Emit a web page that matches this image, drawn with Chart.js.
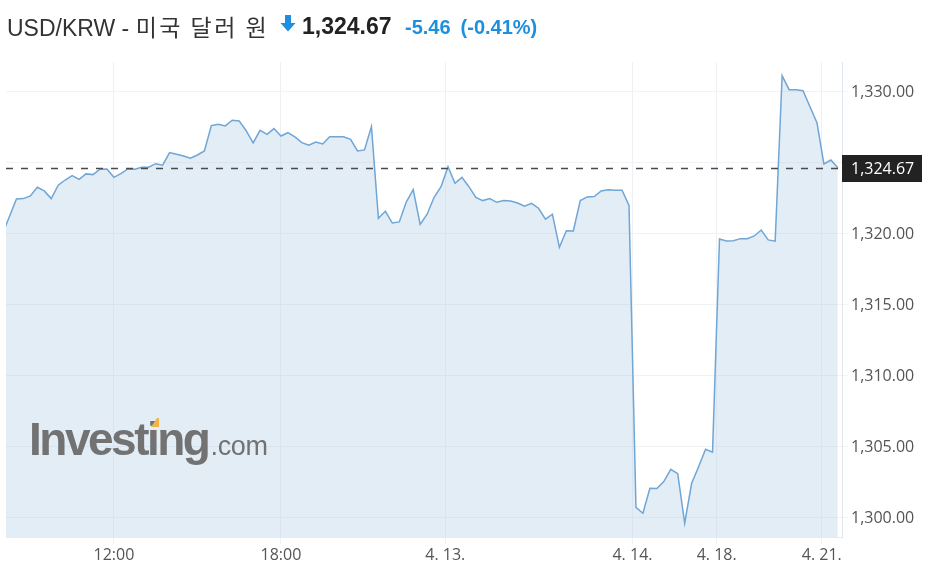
<!DOCTYPE html>
<html>
<head>
<meta charset="utf-8">
<script src="https://cdn.jsdelivr.net/npm/chart.js@4"></script>
<style>
    html, body { margin: 0; padding: 0; background: #fff; }
    #wrap { position: relative; width: 930px; height: 581px; }
    #chart { position: absolute; left: 0; top: 0; }
    .hd { position: absolute; white-space: nowrap; line-height: 1; }
</style>
</head>
<body>
<div id="wrap">
    <canvas id="chart" width="930" height="581"></canvas>
    <div class="hd" style="left:7px; top:14.5px; font-size:23px; color:#333; font-family:'Liberation Sans', Arial, 'Noto Sans CJK KR';">
        <span id="ttl"></span><span id="ttlKo" style="letter-spacing:2.5px; font-family:'Noto Sans CJK KR';"></span>
    </div>
    <svg class="hd" style="left:280px; top:15px;" width="16" height="17" viewBox="0 0 16 17">
        <path d="M5 0 H11 V8 H15.5 L8 16.5 L0.5 8 H5 Z" fill="#1c8fe0"/>
    </svg>
    <div class="hd" id="px" style="left:302px; top:14.5px; font-size:23px; font-weight:bold; color:#222; font-family:'Liberation Sans', Arial;"></div>
    <div class="hd" id="chg" style="left:405px; top:17px; font-size:20px; font-weight:bold; color:#1c8fe0; font-family:'Liberation Sans', Arial;"></div>
</div>
<script>
    var pairTitle = "USD/KRW - ";
    var pairTitleKo = "미국 달러 원";
    var lastPrice = 1324.67;
    var priceChange = -5.46;
    var changePct = -0.41;

    // 15 minute closes
    var usdKrw = [
        1320.04, 1321.23, 1322.46, 1322.49, 1322.68, 1323.29, 1323.03, 1322.49, 1323.43, 1323.80,
        1324.11, 1323.85, 1324.23, 1324.18, 1324.56, 1324.58, 1323.99, 1324.25, 1324.58, 1324.56,
        1324.70, 1324.70, 1324.95, 1324.84, 1325.73, 1325.61, 1325.49, 1325.33, 1325.56, 1325.85,
        1327.63, 1327.73, 1327.61, 1328.01, 1327.96, 1327.27, 1326.41, 1327.30, 1327.02, 1327.42,
        1326.90, 1327.13, 1326.83, 1326.43, 1326.25, 1326.48, 1326.34, 1326.85, 1326.85, 1326.85,
        1326.67, 1325.85, 1325.92, 1327.56, 1321.11, 1321.60, 1320.77, 1320.85, 1322.25, 1323.12,
        1320.67, 1321.39, 1322.58, 1323.33, 1324.74, 1323.57, 1323.99, 1323.33, 1322.58, 1322.35,
        1322.49, 1322.23, 1322.35, 1322.32, 1322.18, 1321.95, 1322.16, 1321.81, 1321.04, 1321.39,
        1319.06, 1320.23, 1320.21, 1322.35, 1322.61, 1322.63, 1323.03, 1323.12, 1323.08, 1323.08,
        1322.01, 1300.75, 1300.33, 1302.09, 1302.07, 1302.56, 1303.43, 1303.12, 1299.63, 1302.44,
        1303.61, 1304.84, 1304.63, 1319.65, 1319.51, 1319.53, 1319.67, 1319.67, 1319.86, 1320.28,
        1319.58, 1319.49, 1331.15, 1330.16, 1330.16, 1330.09, 1328.96, 1327.84, 1324.93, 1325.21,
        1324.67
    ];

    var xTickPos = [16, 40, 63.6, 90.5, 102.6, 117.7];
    var xTickLabels = ["12:00", "18:00", "4. 13.", "4. 14.", "4. 18.", "4. 21."];
    var yTicks = [1300, 1305, 1310, 1315, 1320, 1325, 1330];

    function fmt(v) {
        return v.toLocaleString("en-US", { minimumFractionDigits: 2, maximumFractionDigits: 2 });
    }

    document.getElementById("ttl").textContent = pairTitle;
    document.getElementById("ttlKo").textContent = pairTitleKo;
    document.getElementById("px").textContent = fmt(lastPrice);
    document.getElementById("chg").innerHTML = fmt(priceChange) + '<span style="margin-left:10px">(' + fmt(changePct) + '%)</span>';

    var points = [];
    for (var i = 0; i < usdKrw.length; i++) {
        points.push({ x: i, y: usdKrw[i] });
    }

    var tickFont = { family: "'Open Sans'", size: 16 };

    // watermark, then dashed last price line + label box on top
    var overlay = {
        id: "overlay",
        afterDatasetsDraw: function (chart) {
            var ctx = chart.ctx;
            var area = chart.chartArea;

            ctx.save();
            ctx.fillStyle = "#727272";
            ctx.textBaseline = "alphabetic";
            ctx.font = "bold 46px 'Liberation Sans', Arial";
            ctx.letterSpacing = "-2.5px";
            ctx.fillText("Investing", 29, 455);
            var w = ctx.measureText("Investing").width;
            ctx.font = "27px 'Liberation Sans', Arial";
            ctx.letterSpacing = "-0.3px";
            ctx.fillText(".com", 29 + w + 2, 455);
            ctx.fillStyle = "#f2b447";
            ctx.beginPath();
            ctx.moveTo(151, 427);
            ctx.lineTo(157, 418);
            ctx.lineTo(159, 418);
            ctx.lineTo(159, 427);
            ctx.closePath();
            ctx.fill();
            ctx.restore();

            var y = Math.round(chart.scales.y.getPixelForValue(lastPrice)) + 0.5;
            ctx.save();
            ctx.strokeStyle = "#4a4a4a";
            ctx.lineWidth = 1.6;
            ctx.setLineDash([7, 8]);
            ctx.beginPath();
            ctx.moveTo(area.left, y);
            ctx.lineTo(area.right, y);
            ctx.stroke();
            ctx.setLineDash([]);
            ctx.fillStyle = "#222";
            ctx.fillRect(area.right, y - 13.5, 80, 27);
            ctx.fillStyle = "#fff";
            ctx.font = "16px 'Open Sans'";
            ctx.textBaseline = "middle";
            ctx.fillText(fmt(lastPrice), area.right + 9, y + 1);
            ctx.restore();
        }
    };

    new Chart(document.getElementById("chart"), {
        type: "line",
        data: {
            datasets: [{
                data: points,
                borderColor: "#6fa6d6",
                borderWidth: 1.5,
                backgroundColor: "rgba(175, 203, 228, 0.35)",
                fill: "start",
                pointRadius: 0,
                tension: 0
            }]
        },
        options: {
            responsive: false,
            animation: false,
            layout: { padding: { left: 6, top: 62, right: 0, bottom: 0 } },
            plugins: { legend: { display: false }, tooltip: { enabled: false } },
            scales: {
                x: {
                    type: "linear",
                    min: 0.5,
                    max: 120.6,
                    afterBuildTicks: function (scale) {
                        scale.ticks = xTickPos.map(function (v) { return { value: v }; });
                    },
                    afterFit: function (scale) { scale.height = 44; },
                    grid: { color: "#eef1f4", tickLength: 7 },
                    border: { display: true, color: "#e6ebf0" },
                    ticks: {
                        autoSkip: false,
                        maxRotation: 0,
                        padding: 2,
                        color: "#555",
                        font: tickFont,
                        callback: function (v, idx) { return xTickLabels[idx]; }
                    }
                },
                y: {
                    position: "right",
                    min: 1298.66,
                    max: 1332.11,
                    afterBuildTicks: function (scale) {
                        scale.ticks = yTicks.map(function (v) { return { value: v }; });
                    },
                    afterFit: function (scale) { scale.width = 88; },
                    grid: { color: "#f0f2f5", tickLength: 6 },
                    border: { display: true, color: "#dfe5ec" },
                    ticks: {
                        padding: 3,
                        color: "#555",
                        font: tickFont,
                        callback: function (v) { return fmt(v); }
                    }
                }
            }
        },
        plugins: [overlay]
    });
</script>
</body>
</html>
